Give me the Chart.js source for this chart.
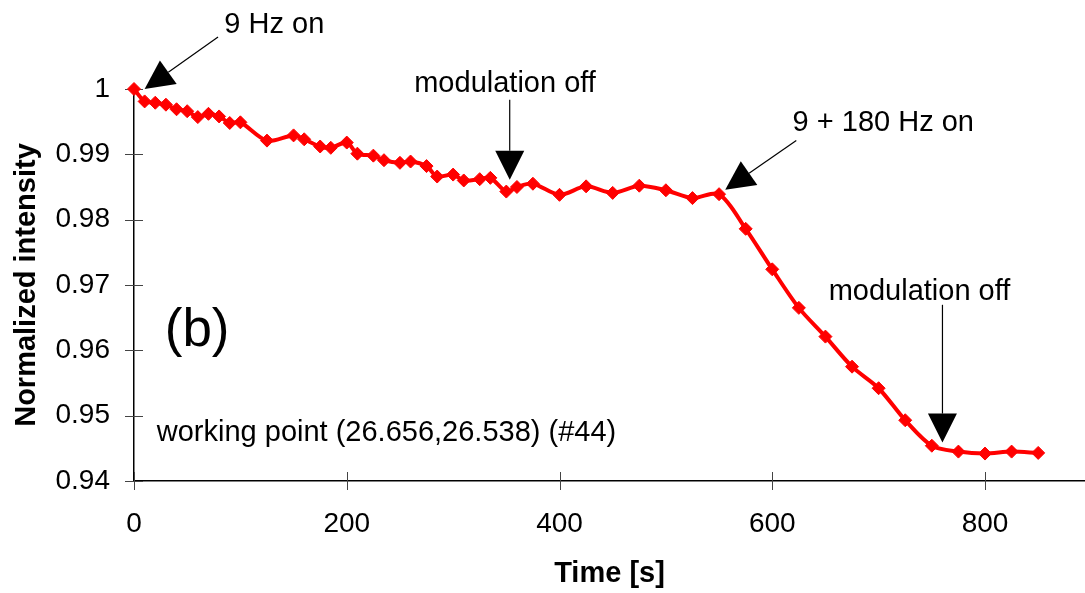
<!DOCTYPE html>
<html>
<head>
<meta charset="utf-8">
<script src="https://cdn.jsdelivr.net/npm/chart.js@4.4.1/dist/chart.umd.min.js"></script>
<style>
  html, body { margin: 0; padding: 0; background: #fff; }
  #wrap { width: 1085px; height: 593px; position: relative; }
</style>
</head>
<body>
<div id="wrap"><canvas id="chart"></canvas></div>
<script>
// Time [s] of each measurement
const times = [0, 10, 20, 30, 40, 50, 60, 70, 80, 90, 100,
  125, 150, 160, 175, 185, 200, 210, 225, 235, 250, 260, 275, 285,
  300, 310, 325, 335, 350, 360, 375,
  400, 425, 450, 475, 500, 525, 550,
  575, 600, 625, 650, 675, 700, 725, 750, 775, 800, 825, 850];

// Normalized intensity
const intensity = [1.0, 0.9981, 0.9979, 0.9976, 0.9969, 0.9966, 0.9957, 0.9962, 0.9958, 0.9948, 0.9949,
  0.9921, 0.9929, 0.9923, 0.9912, 0.9910, 0.9918, 0.9901, 0.9898, 0.9891, 0.9887, 0.9889, 0.9882, 0.9866,
  0.9869, 0.9860, 0.9862, 0.9864, 0.9843, 0.9850, 0.9855,
  0.9838, 0.9851, 0.9841, 0.9852, 0.9845, 0.9833, 0.9839,
  0.9786, 0.9724, 0.9665, 0.9621, 0.9575, 0.9542, 0.9493, 0.9454, 0.9445, 0.9442, 0.9445, 0.9443];

// Axis ticks
const xTicks = [0, 200, 400, 600, 800];
const yTicks = [0.94, 0.95, 0.96, 0.97, 0.98, 0.99, 1];

// Annotations, placed in data units (time, intensity)
const notes = [
  { text: '9 Hz on', t: 131.9, v: 1.00862, align: 'center' },
  { text: 'modulation off', t: 348.8, v: 0.99959, align: 'center' },
  { text: '9 + 180 Hz on', t: 704.4, v: 0.99351, align: 'center' },
  { text: 'modulation off', t: 738.4, v: 0.96773, align: 'center' },
  { text: 'working point (26.656,26.538) (#44)', t: 21.4, v: 0.94615, align: 'left' }
];
const arrows = [
  { from: [79, 1.00796], to: [10, 1.0] },
  { from: [353.2, 0.99836], to: [353.2, 0.98611] },
  { from: [622.6, 0.99213], to: [555.8, 0.98458] },
  { from: [760, 0.96697], to: [760, 0.94588] }
];
const panelLabel = { text: '(b)', t: 28.9, v: 0.96069 };

const FONT = "'Liberation Sans', Arial, sans-serif";
Chart.defaults.font.family = FONT;
Chart.defaults.font.size = 28;
Chart.defaults.color = '#000';

function drawArrow(ctx, x1, y1, x2, y2) {
    const ang = Math.atan2(y2 - y1, x2 - x1);
    const len = 29, half = 14.5;
    const bx = x2 - len * Math.cos(ang), by = y2 - len * Math.sin(ang);
    ctx.beginPath();
    ctx.moveTo(x1, y1);
    ctx.lineTo(bx, by);
    ctx.stroke();
    ctx.beginPath();
    ctx.moveTo(x2, y2);
    ctx.lineTo(bx + half * Math.sin(ang), by - half * Math.cos(ang));
    ctx.lineTo(bx - half * Math.sin(ang), by + half * Math.cos(ang));
    ctx.closePath();
    ctx.fill();
}

// cross-style tick marks like the original (through the axis line)
const crossTicks = {
    id: 'crossTicks',
    beforeDatasetsDraw(chart) {
        const { ctx, scales: { x, y } } = chart;
        ctx.save();
        ctx.strokeStyle = '#444';
        ctx.lineWidth = 1;
        y.ticks.forEach(tk => {
            const py = Math.round(y.getPixelForValue(tk.value)) + 0.5;
            ctx.beginPath();
            ctx.moveTo(x.left - 9, py);
            ctx.lineTo(x.left + 9, py);
            ctx.stroke();
        });
        x.ticks.forEach(tk => {
            const px = Math.round(x.getPixelForValue(tk.value)) + 0.5;
            ctx.beginPath();
            ctx.moveTo(px, y.bottom - 9);
            ctx.lineTo(px, y.bottom + 9);
            ctx.stroke();
        });
        ctx.restore();
    }
};

const annotations = {
    id: 'annotations',
    afterDraw(chart) {
        const { ctx, scales: { x, y } } = chart;
        ctx.save();
        ctx.fillStyle = '#000';
        ctx.strokeStyle = '#000';
        ctx.lineWidth = 1.2;
        arrows.forEach(a => {
            drawArrow(ctx,
                x.getPixelForValue(a.from[0]), y.getPixelForValue(a.from[1]),
                x.getPixelForValue(a.to[0]), y.getPixelForValue(a.to[1]));
        });
        ctx.textBaseline = 'alphabetic';
        ctx.font = '29px ' + FONT;
        notes.forEach(n => {
            ctx.textAlign = n.align;
            ctx.fillText(n.text, x.getPixelForValue(n.t), y.getPixelForValue(n.v));
        });
        ctx.textAlign = 'left';
        ctx.font = '53px ' + FONT;
        ctx.fillText(panelLabel.text, x.getPixelForValue(panelLabel.t), y.getPixelForValue(panelLabel.v));
        ctx.restore();
    }
};

new Chart(document.getElementById('chart'), {
    type: 'line',
    data: {
        datasets: [{
            data: times.map((t, i) => ({ x: t, y: intensity[i] })),
            borderColor: '#ff0000',
            backgroundColor: '#ff0000',
            borderWidth: 4,
            tension: 0.3,
            pointStyle: 'rectRot',
            pointRadius: 6.5,
            pointBorderWidth: 1,
            clip: false
        }]
    },
    options: {
        responsive: true,
        maintainAspectRatio: false,
        animation: false,
        layout: { autoPadding: false, padding: { top: 89, right: 0, left: 0, bottom: 0 } },
        plugins: {
            legend: { display: false },
            tooltip: { enabled: false }
        },
        scales: {
            x: {
                type: 'linear',
                min: 0,
                max: 894,
                afterBuildTicks: s => { s.ticks = xTicks.map(v => ({ value: v })); },
                afterFit: s => { s.height = 112; s.paddingLeft = 0; s.paddingRight = 0; },
                grid: { display: false, drawTicks: false, tickLength: 0 },
                border: { display: true, color: '#000', width: 1.5 },
                ticks: { padding: 26, maxRotation: 0, autoSkip: false },
                title: {
                    display: true,
                    text: 'Time [s]',
                    font: { size: 29, weight: 'bold' },
                    padding: { top: 0, bottom: 2 }
                }
            },
            y: {
                min: 0.94,
                max: 1,
                afterBuildTicks: s => { s.ticks = yTicks.map(v => ({ value: v })); },
                afterFit: s => { s.width = 134; s.paddingTop = 0; s.paddingBottom = 0; },
                grid: { display: false, drawTicks: false, tickLength: 0 },
                border: { display: true, color: '#000', width: 1.5 },
                ticks: {
                    padding: 24,
                    autoSkip: false,
                    callback: v => String(Number(v.toFixed(2)))
                },
                title: {
                    display: true,
                    text: 'Normalized intensity',
                    font: { size: 29, weight: 'bold' },
                    padding: { top: 10, bottom: 0 }
                }
            }
        }
    },
    plugins: [crossTicks, annotations]
});
</script>
</body>
</html>
